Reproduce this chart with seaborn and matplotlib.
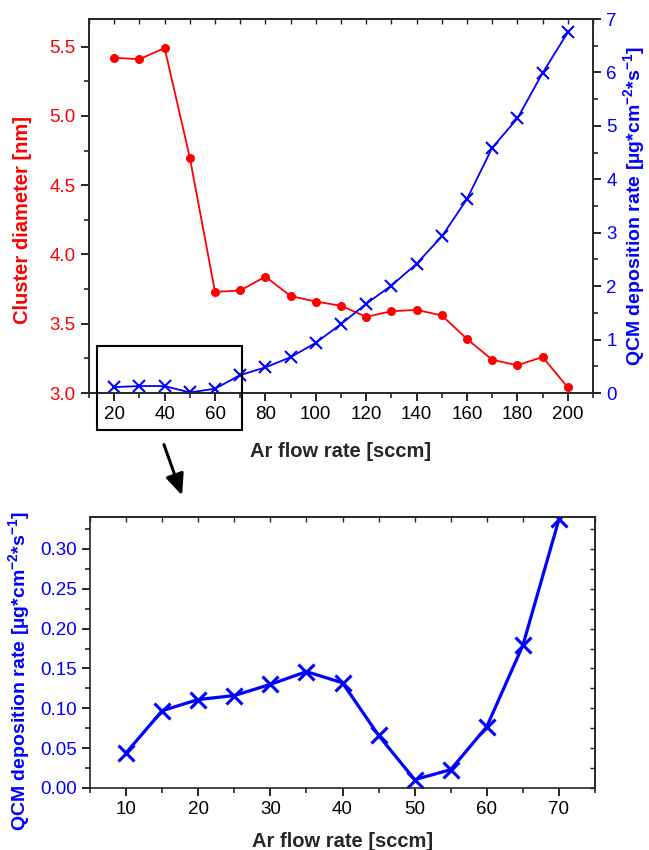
import numpy as np
import pandas as pd
import matplotlib
matplotlib.use("Agg")
import matplotlib.pyplot as plt
import seaborn as sns
from matplotlib.patches import Rectangle, FancyArrowPatch
from matplotlib.ticker import MultipleLocator, FormatStrFormatter

# top panel data
flow = [20, 30, 40, 50, 60, 70, 80, 90, 100, 110, 120, 130, 140, 150, 160, 170, 180, 190, 200]
diameter = [5.42, 5.41, 5.49, 4.70, 3.73, 3.74, 3.84, 3.70, 3.66, 3.63, 3.55, 3.59, 3.60, 3.56,
            3.39, 3.24, 3.20, 3.26, 3.04]
rate = [0.11, 0.13, 0.13, 0.01, 0.08, 0.335, 0.48, 0.67, 0.94, 1.29, 1.67, 2.01, 2.42, 2.93,
        3.63, 4.59, 5.14, 5.99, 6.75]

# bottom panel (zoom of low flow)
flow_low = [10, 15, 20, 25, 30, 35, 40, 45, 50, 55, 60, 65, 70]
rate_low = [0.044, 0.097, 0.111, 0.116, 0.130, 0.146, 0.132, 0.066, 0.0105, 0.023, 0.077,
            0.179, 0.337]

sns.set_style("ticks")
plt.rcParams['font.family'] = ['Liberation Sans', 'DejaVu Sans']
plt.rcParams['mathtext.fontset'] = 'custom'
plt.rcParams['mathtext.rm'] = 'Liberation Sans'
plt.rcParams['mathtext.bf'] = 'Liberation Sans:bold'
plt.rcParams['axes.linewidth'] = 1.2

RED = '#ff0000'
BLUE = '#0000ff'
qcm_label = r'QCM deposition rate [µg*cm$^{\mathbf{-2}}$*s$^{\mathbf{-1}}$]'
TICK_FS = 13.5
LABEL_FS = 14.5
QCM_FS = 14

fig = plt.figure(figsize=(6.49, 8.5), dpi=100)
W, H = 649, 850

def px_axes(l, t, r, b):
    return fig.add_axes([l / W, 1 - b / H, (r - l) / W, (b - t) / H])

def style_ticks(ax, which_axis, color='black'):
    ax.tick_params(axis=which_axis, which='major', direction='out', length=6, width=1.2,
                   labelsize=TICK_FS, colors='black', labelcolor=color)
    ax.tick_params(axis=which_axis, which='minor', direction='out', length=3.5, width=1.2)

# ---- top chart
ax = px_axes(89, 19, 593, 393)
df_d = pd.DataFrame({'flow': flow, 'diameter': diameter})
sns.lineplot(data=df_d, x='flow', y='diameter', ax=ax, color=RED, marker='o', markersize=6.5,
             markeredgewidth=0, linewidth=1.3, zorder=3)
ax.set_xlim(10, 210)
ax.set_ylim(3.0, 5.7)
ax.xaxis.set_major_locator(MultipleLocator(20))
ax.xaxis.set_minor_locator(MultipleLocator(10))
ax.yaxis.set_major_locator(MultipleLocator(0.5))
ax.yaxis.set_minor_locator(MultipleLocator(0.25))
ax.yaxis.set_major_formatter(FormatStrFormatter('%.1f'))
style_ticks(ax, 'x')
style_ticks(ax, 'y', RED)
ax.set_xlabel('Ar flow rate [sccm]', fontsize=LABEL_FS, fontweight='bold')
ax.set_ylabel('Cluster diameter [nm]', fontsize=LABEL_FS, fontweight='bold', color=RED)
ax.yaxis.set_label_coords(-0.113, 0.463)
ax.xaxis.set_label_coords(0.5, -0.131)

ax2 = ax.twinx()
df_r = pd.DataFrame({'flow': flow, 'rate': rate})
sns.lineplot(data=df_r, x='flow', y='rate', ax=ax2, color=BLUE, marker='x', markersize=8,
             markeredgewidth=1.5, markeredgecolor=BLUE, linewidth=1.3)
ax2.set_ylim(0, 7)
ax2.yaxis.set_major_locator(MultipleLocator(1))
ax2.yaxis.set_minor_locator(MultipleLocator(0.5))
style_ticks(ax2, 'y', BLUE)
ax2.set_ylabel(qcm_label, fontsize=QCM_FS, fontweight='bold', color=BLUE)
ax2.yaxis.set_label_coords(1.057, 0.5)
ax2.set_xlabel('')

sec = ax.secondary_xaxis('top')
sec.xaxis.set_major_locator(MultipleLocator(10))
sec.tick_params(direction='in', length=3.5, width=1.0, labeltop=False)

# ---- bottom chart
bx = px_axes(90, 517, 595, 788)
df_l = pd.DataFrame({'flow': flow_low, 'rate': rate_low})
sns.lineplot(data=df_l, x='flow', y='rate', ax=bx, color=BLUE, marker='x', markersize=12,
             markeredgewidth=2.2, markeredgecolor=BLUE, linewidth=2.3)
bx.set_xlim(5, 75)
bx.set_ylim(0, 0.34)
bx.xaxis.set_major_locator(MultipleLocator(10))
bx.xaxis.set_minor_locator(MultipleLocator(5))
bx.yaxis.set_major_locator(MultipleLocator(0.05))
bx.yaxis.set_minor_locator(MultipleLocator(0.025))
bx.yaxis.set_major_formatter(FormatStrFormatter('%.2f'))
style_ticks(bx, 'x')
style_ticks(bx, 'y', BLUE)
bx.set_xlabel('Ar flow rate [sccm]', fontsize=LABEL_FS, fontweight='bold')
bx.set_ylabel(qcm_label, fontsize=QCM_FS, fontweight='bold', color=BLUE)
bx.yaxis.set_label_coords(-0.113, 0.43)
bx.xaxis.set_label_coords(0.5, -0.163)

secx = bx.secondary_xaxis('top')
secx.xaxis.set_major_locator(MultipleLocator(5))
secx.tick_params(direction='in', length=3.5, width=1.0, labeltop=False)
secy = bx.secondary_yaxis('right')
secy.yaxis.set_major_locator(MultipleLocator(0.025))
secy.tick_params(direction='in', length=3.5, width=1.0, labelright=False)

# zoom box and arrow
fig.patches.append(Rectangle((97.3 / W, 1 - 430 / H), (242.3 - 97.3) / W, (430 - 346) / H,
                             transform=fig.transFigure, fill=False, lw=1.5, ec='black',
                             zorder=10))
fig.patches.append(FancyArrowPatch((163 / W, 1 - 442 / H), (183 / W, 1 - 498 / H),
                                   transform=fig.transFigure,
                                   arrowstyle='-|>,head_length=8,head_width=3.5',
                                   lw=2.2, color='black', mutation_scale=1.6))

fig.savefig('out.png', dpi=100)
